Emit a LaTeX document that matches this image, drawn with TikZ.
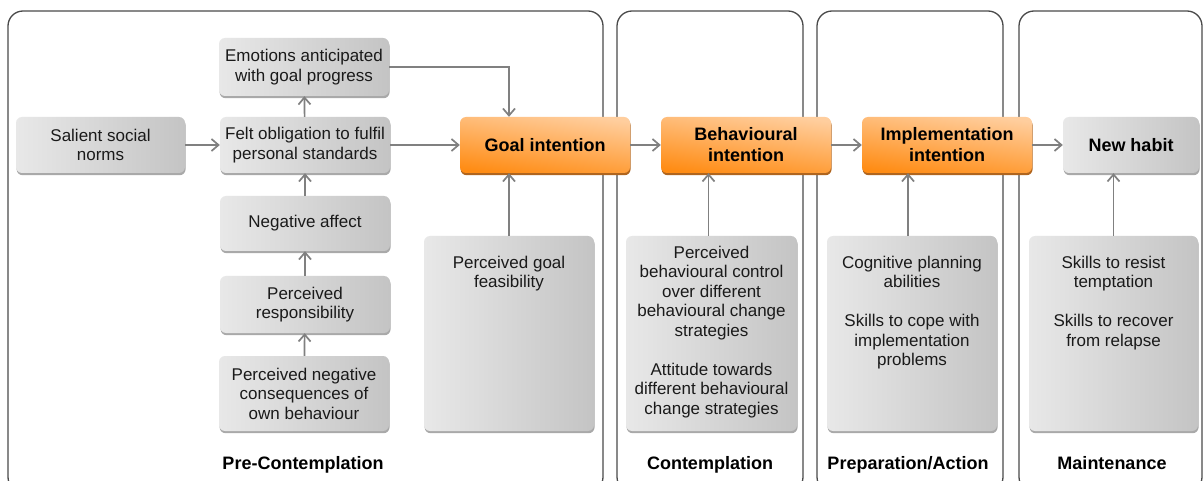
\documentclass[tikz,border=0pt]{standalone}
\usepackage{fontspec}
\setmainfont{Liberation Sans}
\usetikzlibrary{arrows.meta,shadows}
\definecolor{panelc}{HTML}{4A4A4A}
\definecolor{arrc}{HTML}{808080}
\definecolor{txtc}{HTML}{1A1A1A}
\definecolor{gLight}{HTML}{E8E8E8}
\definecolor{gDark}{HTML}{C4C4C4}
\definecolor{gShadow}{HTML}{A9A9A9}
\definecolor{oLight}{HTML}{FFCE9E}
\definecolor{oDark}{HTML}{FF8C14}
\definecolor{oShadow}{HTML}{B0651E}
\begin{document}
\begin{tikzpicture}[x=1pt,y=-1pt,
  panel/.style={draw=panelc, line width=1.3pt, rounded corners=15pt},
  reg/.style={font=\fontsize{17}{19.5}\selectfont, text=txtc},
  boldf/.style={font=\bfseries\fontsize{18}{21}\selectfont, text=black},
  graybox/.style={rounded corners=6pt, minimum width=170pt, minimum height=56pt, inner sep=0pt, align=center,
     left color=gLight, right color=gDark,
     drop shadow={shadow xshift=0.6pt, shadow yshift=-2.2pt, fill=gShadow, opacity=1}},
  orangebox/.style={rounded corners=6pt, minimum width=170pt, minimum height=56pt, inner sep=0pt, align=center,
     top color=oLight, bottom color=oDark, shading angle=-8,
     drop shadow={shadow xshift=0.6pt, shadow yshift=-2.2pt, fill=oShadow, opacity=1}},
  arr/.style={draw=arrc, line width=1.7pt, -{Straight Barb[length=7pt, width=12pt, line width=1.7pt]}},
  phaselabel/.style={boldf, anchor=base}
]
\useasboundingbox (0,0) rectangle (1203,481);
\clip (0,0) rectangle (1203,481);
\fill[white] (0,0) rectangle (1203,481);

% phase panels
\draw[panel] (8,11) rectangle (603,492);
\draw[panel] (617,11) rectangle (803,492);
\draw[panel] (817,11) rectangle (1003,492);
\draw[panel] (1019,11) rectangle (1202,492);

% pre-contemplation boxes
\node[graybox, reg, minimum width=169pt] (sal) at (100.5,145) {Salient social\\norms};
\node[graybox, reg] (felt) at (305,145) {Felt obligation to fulfil\\personal standards};
\node[graybox, reg, minimum height=58pt] (emo) at (304,67) {Emotions anticipated\\with goal progress};
\node[graybox, reg, minimum height=55pt] (neg) at (305,223.5) {Negative affect};
\node[graybox, reg, minimum height=57pt] (resp) at (305,304.5) {Perceived\\responsibility};
\node[graybox, reg, minimum height=75pt] (cons) at (304,393.5) {Perceived negative\\consequences of\\own behaviour};

% tall boxes
\node[graybox, minimum height=195pt] (feas) at (509,333.5) {};
\node[graybox, minimum width=171pt, minimum height=195pt] (cont) at (711.5,333.5) {};
\node[graybox, minimum height=195pt] (prep) at (912,333.5) {};
\node[graybox, minimum width=169pt, minimum height=195pt] (maint) at (1113.5,333.5) {};

\node[reg, align=center, anchor=north, inner sep=0pt] (feast) at (509,255.5) {Perceived goal\\feasibility};
\node[reg, align=center, anchor=north, inner sep=0pt] (contt) at (711.5,245.5) {Perceived\\behavioural control\\over different\\behavioural change\\strategies\\[19.5pt]Attitude towards\\different behavioural\\change strategies};
\node[reg, align=center, anchor=north, inner sep=0pt] (prept) at (912,255.5) {Cognitive planning\\abilities\\[19.5pt]Skills to cope with\\implementation\\problems};
\node[reg, align=center, anchor=north, inner sep=0pt] (maintt) at (1113.5,255.5) {Skills to resist\\temptation\\[19.5pt]Skills to recover\\from relapse};

% intentions
\node[orangebox, boldf] (goal) at (545,145) {Goal intention};
\node[orangebox, boldf] (beh) at (746,145) {Behavioural\\intention};
\node[orangebox, boldf] (impl) at (947,145) {Implementation\\intention};
\node[graybox, boldf, minimum width=136pt] (habit) at (1131,145) {New habit};

% connectors
\draw[arr] (sal) -- (felt);
\draw[arr] (felt) -- (emo);
\draw[arr] (neg) -- (felt);
\draw[arr] (resp) -- (neg);
\draw[arr] (cons) -- (resp);
\draw[arr] (felt) -- (goal);
\draw[arr] (emo.east) -| (goal.north -| feas.north);
\draw[arr] (feas.north) -- (feas.north |- goal.south);
\draw[arr] (goal) -- (beh);
\draw[arr] (beh) -- (impl);
\draw[arr] (impl) -- (habit);
\draw[arr] ([xshift=-3pt]cont.north) -- ([xshift=-3pt]cont.north |- beh.south);
\draw[arr] ([xshift=-4pt]prep.north) -- ([xshift=-4pt]prep.north |- impl.south);
\draw[arr] (maint.north) -- (maint.north |- habit.south);

% phase labels
\node[phaselabel] (l1) at (303,469.5) {Pre-Contemplation};
\node[phaselabel] (l2) at (710,469.5) {Contemplation};
\node[phaselabel] (l3) at (908,469.5) {Preparation/Action};
\node[phaselabel] (l4) at (1112,469.5) {Maintenance};
\end{tikzpicture}
\end{document}
